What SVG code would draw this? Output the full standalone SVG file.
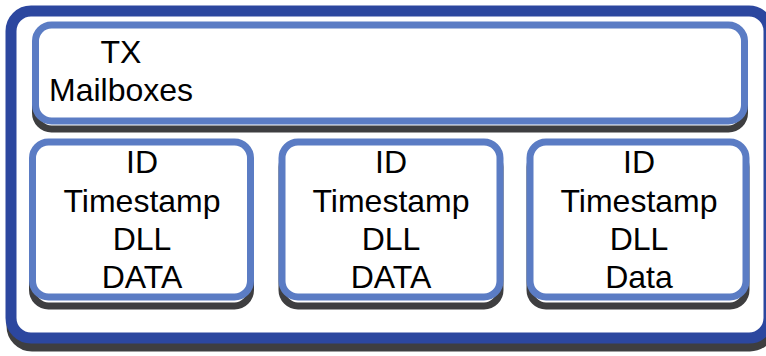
<svg xmlns="http://www.w3.org/2000/svg" width="766" height="356" viewBox="0 0 766 356">
<style>
.shadow{fill:none;stroke:#3e3e40;}
.outer{fill:#fff;stroke:#2c479f;stroke-width:11;}
.inner{fill:#fff;stroke:#5b7cc4;stroke-width:7;}
.sh-in{fill:none;stroke:#3e3e40;stroke-width:7;}
text{font-family:"Liberation Sans",Arial,sans-serif;font-size:32px;fill:#000;text-anchor:middle;}
</style>
<rect width="766" height="356" fill="#fff"/>
<g id="frame">
<rect class="shadow" x="12" y="20" width="758" height="326" rx="20" stroke-width="11"/>
<rect class="outer" x="11" y="11" width="758" height="327" rx="20"/>
</g>
<g id="tx-mailboxes">
<rect class="sh-in" x="35.5" y="33" width="709" height="96" rx="16"/>
<rect class="inner" x="35.5" y="25" width="709" height="96" rx="16"/>
<text x="121" y="63">TX</text>
<text x="121" y="101">Mailboxes</text>
</g>
<g id="box1">
<rect class="sh-in" x="32.5" y="151" width="218" height="155" rx="16"/>
<rect class="inner" x="32.5" y="142" width="218" height="155" rx="16"/>
<text x="142" y="173">ID</text>
<text x="142" y="212">Timestamp</text>
<text x="142" y="250">DLL</text>
<text x="142" y="288">DATA</text>
</g>
<g id="box2">
<rect class="sh-in" x="282" y="151" width="218" height="155" rx="16"/>
<rect class="inner" x="282" y="142" width="218" height="155" rx="16"/>
<text x="391" y="173">ID</text>
<text x="391" y="212">Timestamp</text>
<text x="391" y="250">DLL</text>
<text x="391" y="288">DATA</text>
</g>
<g id="box3">
<rect class="sh-in" x="530" y="151" width="216" height="155" rx="16"/>
<rect class="inner" x="530" y="142" width="216" height="155" rx="16"/>
<text x="639" y="173">ID</text>
<text x="639" y="212">Timestamp</text>
<text x="639" y="250">DLL</text>
<text x="639" y="288">Data</text>
</g>
<g id="connectors"></g>
</svg>
